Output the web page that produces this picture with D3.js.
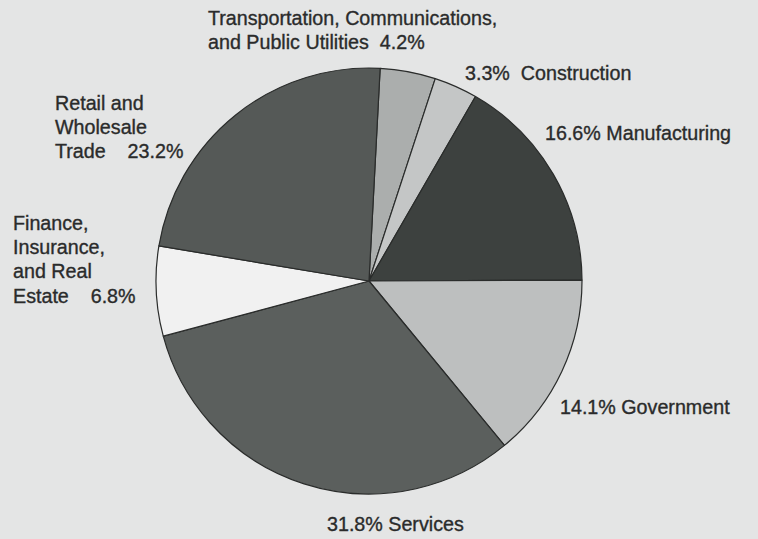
<!DOCTYPE html>
<html>
<head>
<meta charset="utf-8">
<script src="https://cdn.jsdelivr.net/npm/d3@7"></script>
<style>
html,body{margin:0;padding:0;background:#e4e5e5;}
svg{display:block;}
text{font-family:"Liberation Sans",Arial,sans-serif;fill:#2a2b2b;stroke:#2a2b2b;stroke-width:0.35px;}
</style>
</head>
<body>
<svg id="chart" width="758" height="539"></svg>
<script>
const categories = ["Transportation, Communications, and Public Utilities","Construction","Manufacturing","Government","Services","Finance, Insurance, and Real Estate","Retail and Wholesale Trade"];
const shares = [4.2, 3.3, 16.6, 14.1, 31.8, 6.8, 23.2];
const fills = ["#abaead","#c4c6c6","#3d413f","#bdbfbf","#5b5f5d","#f1f1f1","#555957"];
const labelLines = [
  ["Transportation, Communications,", "and Public Utilities  4.2%"],
  ["3.3%  Construction"],
  ["16.6% Manufacturing"],
  ["14.1% Government"],
  ["31.8% Services"],
  ["Finance,", "Insurance,", "and Real", "Estate    6.8%"],
  ["Retail and", "Wholesale", "Trade    23.2%"]
];
const labelPos = [[208,25],[465,80],[545,140],[560,414],[327,531],[13,230],[55,110]];

const svg = d3.select("#chart");
const cx = 369, cy = 281, R = 213;
const startDeg = 3;

const pie = d3.pie().sort(null).value(d => d)
  .startAngle(startDeg*Math.PI/180).endAngle((startDeg+360)*Math.PI/180);
const arc = d3.arc().innerRadius(0).outerRadius(R);
const arcs = pie(shares);

const g = svg.append("g").attr("transform", `translate(${cx},${cy})`);
g.selectAll("path").data(arcs).enter().append("path")
  .attr("d", arc)
  .attr("fill", (d,i) => fills[i])
  .attr("stroke", "#2a2c2b")
  .attr("stroke-width", 1.2)
  .attr("stroke-linejoin", "round");

const lg = svg.append("g").style("font-size", "19.7px");
labelLines.forEach((lines, i) => {
  const t = lg.append("text")
    .attr("x", labelPos[i][0]).attr("y", labelPos[i][1])
    .attr("xml:space", "preserve")
    .style("white-space", "pre");
  lines.forEach((ln, j) => {
    t.append("tspan").attr("x", labelPos[i][0]).attr("dy", j === 0 ? 0 : 24.2).text(ln);
  });
});
</script>
</body>
</html>
